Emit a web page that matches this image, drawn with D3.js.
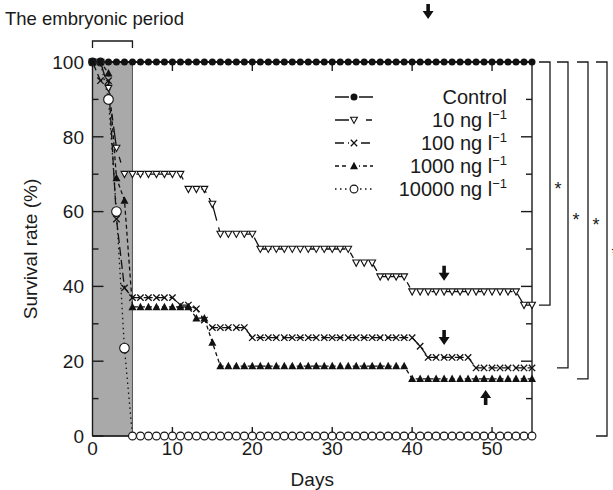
<!DOCTYPE html>
<html>
<head>
<meta charset="utf-8">
<script src="https://cdn.jsdelivr.net/npm/d3@7"></script>
<style>
  body { margin: 0; background: #fff; }
  text { font-family: "Liberation Sans", Arial, sans-serif; fill: #1a1a1a; }
</style>
</head>
<body>
<svg id="chart" width="613" height="490"></svg>
<script>
const days = d3.range(0, 56);

const control = [100,100,100,100,100,100,100,100,100,100,100,100,100,100,100,100,100,100,100,100,
  100,100,100,100,100,100,100,100,100,100,100,100,100,100,100,100,100,100,100,100,
  100,100,100,100,100,100,100,100,100,100,100,100,100,100,100,100];
const ng10 = [100,100,93,77,70,70,70,70,70,70,70,70,66,66,66,62,54,54,54,54,54,
  50,50,50,50,50,50,50,50,50,50,50,50,46.3,46.3,46.3,42.6,42.6,42.6,42.6,
  38.6,38.6,38.6,38.6,38.6,38.6,38.6,38.6,38.6,38.6,38.6,38.6,38.6,38.6,35,35];
const ng100 = [100,95,95,58,39.6,37,37,37,37,37,37,35,35,34,31,29,29,29,29,29,
  26.3,26.3,26.3,26.3,26.3,26.3,26.3,26.3,26.3,26.3,26.3,26.3,26.3,26.3,26.3,26.3,26.3,26.3,26.3,26.3,26.3,
  24,21,21,21,21,21,21,18.2,18.2,18.2,18.2,18.2,18.2,18.2,18.2];
const ng1000 = [100,100,97,69,63,34.5,34.5,34.5,34.5,34.5,34.5,34.5,34.5,31.5,31.5,25,
  18.7,18.7,18.7,18.7,18.7,18.7,18.7,18.7,18.7,18.7,18.7,18.7,18.7,18.7,18.7,18.7,18.7,18.7,18.7,18.7,18.7,18.7,18.7,18.7,
  15.3,15.3,15.3,15.3,15.3,15.3,15.3,15.3,15.3,15.3,15.3,15.3,15.3,15.3,15.3,15.3];
const ng10000 = [100,100,90,60,23.5,0,0,0,0,0,0,0,0,0,0,0,0,0,0,0,0,0,0,0,0,0,0,0,0,0,
  0,0,0,0,0,0,0,0,0,0,0,0,0,0,0,0,0,0,0,0,0,0,0,0,0,0];

const seriesNames = ['Control', '10', '100', '1000', '10000'];
const xTicks = [0, 10, 20, 30, 40, 50];
const yTicks = [0, 20, 40, 60, 80, 100];
const yMinor = [10, 30, 50, 70, 90];
const embryonic = [0, 5];
// arrows: [day, value of tip, direction]
const arrows = [[42, 111.5, 'down'], [44, 41.5, 'down'], [44, 24.3, 'down'], [49.2, 12.3, 'up']];
// significance brackets: bottom value of each
const brackets = [35, 18.2, 15.3, 0];

const svg = d3.select('#chart');
const x = d3.scaleLinear().domain([0, 55]).range([92.5, 532]);
const y = d3.scaleLinear().domain([0, 100]).range([436, 62]);

// shaded embryonic period
svg.append('rect')
  .attr('x', x(embryonic[0])).attr('y', y(100))
  .attr('width', x(embryonic[1]) - x(embryonic[0]))
  .attr('height', y(0) - y(100))
  .attr('fill', '#a9a9a9').attr('stroke', '#555').attr('stroke-width', 1);

// frame with inward ticks
const frame = svg.append('g').attr('stroke', '#1a1a1a').attr('stroke-width', 1.4);
frame.append('line').attr('x1', x(0)).attr('x2', x(0)).attr('y1', y(0)).attr('y2', y(100));
frame.append('line').attr('x1', x(55)).attr('x2', x(55)).attr('y1', y(0)).attr('y2', y(100));
frame.append('line').attr('x1', x(0)).attr('x2', x(55)).attr('y1', y(0)).attr('y2', y(0));
frame.append('line').attr('x1', x(0)).attr('x2', x(55)).attr('y1', y(100)).attr('y2', y(100));

yTicks.concat(yMinor).forEach(v => {
  const len = yTicks.includes(v) ? 11 : 6;
  frame.append('line').attr('x1', x(0)).attr('x2', x(0) + len).attr('y1', y(v)).attr('y2', y(v));
  frame.append('line').attr('x1', x(55)).attr('x2', x(55) - len).attr('y1', y(v)).attr('y2', y(v));
});
xTicks.slice(1).forEach(d => {
  frame.append('line').attr('x1', x(d)).attr('x2', x(d)).attr('y1', y(0)).attr('y2', y(0) - 9);
  frame.append('line').attr('x1', x(d)).attr('x2', x(d)).attr('y1', y(100)).attr('y2', y(100) + 9);
});

// tick labels
svg.append('g').selectAll('text').data(yTicks).join('text')
  .attr('x', 84).attr('y', d => y(d)).attr('dy', '0.36em')
  .attr('text-anchor', 'end').attr('font-size', 19).text(d => d);
svg.append('g').selectAll('text').data(xTicks).join('text')
  .attr('x', d => x(d)).attr('y', 455)
  .attr('text-anchor', 'middle').attr('font-size', 19).text(d => d);

svg.append('text').attr('x', x(27.5)).attr('y', 486)
  .attr('text-anchor', 'middle').attr('font-size', 19).text('Days');
svg.append('text')
  .attr('transform', `translate(37,${y(50)}) rotate(-90)`)
  .attr('text-anchor', 'middle').attr('font-size', 19).text('Survival rate (%)');

svg.append('text').attr('x', 5).attr('y', 25).attr('font-size', 18.5).text('The embryonic period');
svg.append('path')
  .attr('d', `M${x(0)},48V41H${x(5)}V48`)
  .attr('fill', 'none').attr('stroke', '#1a1a1a').attr('stroke-width', 1.3);

// series
const styles = {
  'Control': { data: control, dash: null, marker: 'dot' },
  '10': { data: ng10, dash: '24,7,6', marker: 'triDown' },
  '100': { data: ng100, dash: '9,4', marker: 'cross' },
  '1000': { data: ng1000, dash: '4,3', marker: 'triUp' },
  '10000': { data: ng10000, dash: '1.5,3.5', marker: 'ring' }
};

function drawMarker(g, type, cx, cy, big) {
  if (type === 'dot') {
    g.append('circle').attr('cx', cx).attr('cy', cy).attr('r', 3.5).attr('fill', '#111');
  } else if (type === 'ring') {
    g.append('circle').attr('cx', cx).attr('cy', cy).attr('r', big ? 4.8 : 3.9)
      .attr('fill', '#fff').attr('stroke', '#111').attr('stroke-width', 1.1);
  } else if (type === 'triDown') {
    g.append('path').attr('d', `M${cx - 3.4},${cy - 2.8}H${cx + 3.4}L${cx},${cy + 3.4}Z`)
      .attr('fill', '#fff').attr('stroke', '#111').attr('stroke-width', 1.1);
  } else if (type === 'triUp') {
    g.append('path').attr('d', `M${cx - 4},${cy + 3.3}H${cx + 4}L${cx},${cy - 4.2}Z`)
      .attr('fill', '#111');
  } else if (type === 'cross') {
    g.append('path').attr('d', `M${cx - 3.2},${cy - 3.2}L${cx + 3.2},${cy + 3.2}M${cx - 3.2},${cy + 3.2}L${cx + 3.2},${cy - 3.2}`)
      .attr('stroke', '#111').attr('stroke-width', 1.3);
  }
}

const line = d3.line().x((d, i) => x(days[i])).y(d => y(d));
const drawOrder = ['10000', '1000', '100', '10', 'Control'];
drawOrder.forEach(name => {
  const s = styles[name];
  svg.append('path').datum(s.data).attr('d', line)
    .attr('fill', 'none').attr('stroke', '#111').attr('stroke-width', 1.3)
    .attr('stroke-dasharray', s.dash);
});
drawOrder.forEach(name => {
  const s = styles[name];
  const g = svg.append('g');
  s.data.forEach((v, i) => drawMarker(g, s.marker, x(days[i]), y(v), v > 0 && v < 100));
});

// legend
const legend = svg.append('g');
seriesNames.forEach((name, i) => {
  const s = styles[name];
  const ly = 97 + i * 23;
  legend.append('line').attr('x1', 335).attr('x2', 373).attr('y1', ly).attr('y2', ly)
    .attr('stroke', '#111').attr('stroke-width', 1.3).attr('stroke-dasharray', s.dash);
  legend.append('rect').attr('x', 349).attr('y', ly - 5).attr('width', 10).attr('height', 10).attr('fill', '#fff');
  drawMarker(legend, s.marker, 354, ly, false);
  const t = legend.append('text').attr('x', 507).attr('y', ly + 7)
    .attr('text-anchor', 'end').attr('font-size', 20);
  if (name === 'Control') {
    t.text('Control');
  } else {
    t.append('tspan').text(name + ' ng l');
    t.append('tspan').attr('dy', -8).attr('font-size', 13).text('\u22121');
  }
});

// arrows
arrows.forEach(([d, v, dir]) => {
  const tx = x(d), ty = y(v), s = dir === 'down' ? -1 : 1;
  svg.append('path')
    .attr('d', `M${tx},${ty}L${tx - 5.5},${ty + s * 8}H${tx - 1.8}V${ty + s * 15}H${tx + 1.8}V${ty + s * 8}H${tx + 5.5}Z`)
    .attr('fill', '#111');
});

// significance brackets
const bx = [550, 568, 588, 607];
brackets.forEach((v, i) => {
  svg.append('path')
    .attr('d', `M${bx[i] - 11},${y(100)}H${bx[i]}V${y(v)}H${bx[i] - 11}`)
    .attr('fill', 'none').attr('stroke', '#1a1a1a').attr('stroke-width', 1.3);
  svg.append('text').attr('x', bx[i] + 8).attr('y', (y(100) + y(v)) / 2 + 11)
    .attr('text-anchor', 'middle').attr('font-size', 18).text('*');
});
</script>
</body>
</html>
